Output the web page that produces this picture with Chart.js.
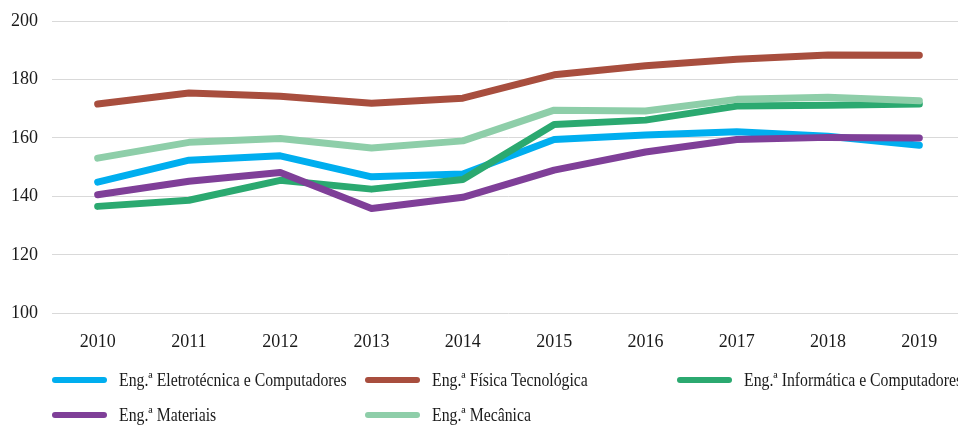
<!DOCTYPE html>
<html>
<head>
<meta charset="utf-8">
<script src="https://cdn.jsdelivr.net/npm/chart.js@4.4.1/dist/chart.umd.min.js"></script>
<style>
  html, body { margin: 0; padding: 0; background: #fff; }
  #wrap { position: relative; width: 958px; height: 425px; overflow: hidden; }
  #wrap canvas { position: absolute; left: 0; top: 0; }
  .lg { position: absolute; height: 24px; white-space: nowrap; }
  .lg .sw { position: absolute; left: 0; top: 9px; width: 55px; height: 6px; border-radius: 3px; }
  .lg .tx { position: absolute; left: 67px; top: 0; font-family: "Liberation Serif", "Times New Roman", serif;
            font-size: 19px; line-height: 24px; color: #1a1a1a; display: inline-block;
            transform: scaleX(0.83); transform-origin: left center; }
</style>
</head>
<body>
<div id="wrap">
  <canvas id="c" width="965" height="425"></canvas>
  <div id="legend"></div>
</div>
<script>
const years = ['2010','2011','2012','2013','2014','2015','2016','2017','2018','2019'];
const seriesNames = [
  'Eng.ª Eletrotécnica e Computadores',
  'Eng.ª Física Tecnológica',
  'Eng.ª Informática e Computadores',
  'Eng.ª Materiais',
  'Eng.ª Mecânica'
];
const eletrotecnica = [144.9, 152.4, 153.9, 146.7, 147.7, 159.5, 161.0, 162.1, 160.6, 157.5];
const fisica        = [171.6, 175.4, 174.3, 171.9, 173.6, 181.6, 184.7, 186.9, 188.4, 188.3];
const informatica   = [136.6, 138.7, 145.5, 142.5, 145.8, 164.6, 166.1, 170.9, 171.2, 171.6];
const materiais     = [140.6, 145.2, 148.2, 135.9, 139.7, 149.0, 155.2, 159.5, 160.2, 160.0];
const mecanica      = [153.1, 158.5, 159.8, 156.6, 159.0, 169.5, 169.2, 173.2, 173.9, 172.7];
const yTicks = [100, 120, 140, 160, 180, 200];

const seriesValues = [eletrotecnica, fisica, informatica, materiais, mecanica];
const colors = ['#00AEEF', '#A84E3E', '#2BA970', '#7F3F98', '#8ECEA9'];

const datasets = seriesValues.map((vals, i) => ({
  label: seriesNames[i],
  data: vals,
  borderColor: colors[i],
  backgroundColor: colors[i],
  borderWidth: 7,
  borderCapStyle: 'round',
  borderJoinStyle: 'round',
  pointRadius: 0,
  pointHoverRadius: 0,
  tension: 0,
  fill: false,
  order: seriesValues.length - i
}));

const tickFont = { family: '"Liberation Serif", "Times New Roman", serif', size: 18 };

const chart = new Chart(document.getElementById('c'), {
  type: 'line',
  data: { labels: years, datasets },
  options: {
    responsive: false,
    animation: false,
    devicePixelRatio: 1,
    layout: { padding: { top: 21, right: 0, bottom: 54, left: 0 } },
    plugins: { legend: { display: false }, tooltip: { enabled: false } },
    scales: {
      x: {
        offset: true,
        grid: { display: false, drawTicks: false },
        border: { display: false },
        ticks: { font: tickFont, color: '#1a1a1a', padding: 18, maxRotation: 0, autoSkip: false }
      },
      y: {
        min: 100, max: 200,
        afterBuildTicks: (s) => { s.ticks = yTicks.map(v => ({ value: v })); },
        afterFit: (s) => { s.width = 52; s.paddingTop = 0; s.paddingBottom = 0; },
        grid: { color: '#d9d9d9', lineWidth: 1, drawTicks: false },
        border: { display: false },
        ticks: { font: tickFont, color: '#1a1a1a', padding: 14 }
      }
    }
  }
});

// HTML legend built from the chart's datasets (grid of 3 columns)
const legendEl = document.getElementById('legend');
const colX = [52, 365, 677];
const rowY = [368, 403];
chart.data.datasets.forEach((ds, i) => {
  const item = document.createElement('div');
  item.className = 'lg';
  item.style.left = colX[i % 3] + 'px';
  item.style.top = rowY[Math.floor(i / 3)] + 'px';
  const sw = document.createElement('span');
  sw.className = 'sw';
  sw.style.background = ds.borderColor;
  const tx = document.createElement('span');
  tx.className = 'tx';
  tx.textContent = ds.label;
  item.appendChild(sw);
  item.appendChild(tx);
  legendEl.appendChild(item);
});
</script>
</body>
</html>
